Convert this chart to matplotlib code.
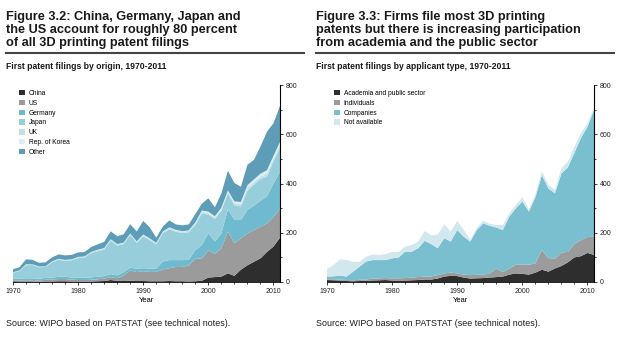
#!/usr/bin/python3

import matplotlib
matplotlib.use('Agg')
import matplotlib.pyplot as plt
from matplotlib.patches import Patch
from matplotlib.ticker import MultipleLocator

plt.rcParams['font.family'] = ['Liberation Sans', 'DejaVu Sans']

years = list(range(1970, 2012))

# Figure 3.2 - first filings by origin
china = [3, 2, 2, 2, 1, 2, 2, 3, 3, 2, 2, 2, 2, 3, 4, 8, 5, 4, 5, 4, 4, 3,
         3, 3, 4, 3, 3, 2, 3, 5, 18, 20, 22, 35, 25, 50, 68, 82, 96, 122, 144, 180]
us = [4, 4, 5, 5, 5, 7, 8, 9, 9, 8, 6, 6, 7, 8, 10, 12, 10, 22, 42, 36, 40, 38,
      38, 48, 52, 58, 58, 66, 92, 90, 110, 94, 115, 170, 132, 128, 130, 128, 129, 116, 120, 118]
germany = [6, 7, 8, 8, 7, 8, 8, 9, 9, 8, 9, 9, 10, 10, 10, 12, 12, 14, 12, 14, 12, 13,
           14, 32, 33, 28, 28, 22, 35, 55, 70, 50, 60, 90, 95, 74, 95, 100, 105, 110, 136, 150]
japan = [25, 31, 53, 54, 47, 44, 62, 69, 65, 70, 80, 82, 98, 104, 108, 136, 121, 114, 132, 105, 129, 116,
         98, 115, 125, 115, 110, 112, 102, 128, 76, 92, 92, 65, 60, 55, 78, 85, 88, 80, 90, 95]
uk = [2, 3, 3, 3, 3, 3, 3, 3, 3, 3, 4, 4, 4, 4, 4, 4, 4, 4, 4, 4, 5, 5,
      4, 5, 6, 6, 5, 6, 6, 7, 6, 6, 7, 6, 8, 8, 12, 10, 10, 12, 10, 12]
korea = [0, 0, 1, 0, 0, 0, 1, 1, 1, 1, 1, 1, 1, 2, 2, 2, 2, 2, 2, 2, 3, 2,
         2, 2, 2, 2, 2, 2, 4, 5, 6, 5, 6, 6, 7, 10, 10, 12, 12, 14, 12, 14]
other = [12, 13, 20, 18, 15, 16, 16, 18, 18, 18, 18, 18, 20, 22, 25, 32, 32, 34, 38, 40, 55, 45,
         21, 20, 28, 22, 24, 24, 34, 28, 54, 36, 58, 80, 75, 62, 83, 79, 110, 156, 133, 146]
origin_labels = ['China', 'US', 'Germany', 'Japan', 'UK', 'Rep. of Korea', 'Other']

# Figure 3.3 - first filings by applicant type
academia = [8, 7, 6, 4, 3, 4, 5, 6, 7, 8, 6, 6, 6, 7, 8, 10, 10, 14, 22, 25, 24, 18,
            14, 15, 16, 18, 20, 22, 30, 35, 33, 30, 38, 50, 42, 55, 65, 80, 100, 105, 118, 110]
individuals = [3, 4, 4, 4, 4, 5, 5, 8, 8, 8, 9, 9, 10, 11, 12, 12, 12, 14, 13, 13, 11, 12,
               14, 14, 14, 16, 35, 18, 25, 35, 37, 40, 38, 80, 55, 40, 55, 42, 55, 65, 65, 74]
companies = [11, 12, 16, 14, 35, 53, 73, 75, 74, 73, 81, 85, 107, 105, 117, 145, 132, 109, 143, 126, 176, 154,
             136, 182, 208, 194, 166, 171, 211, 229, 257, 216, 268, 304, 283, 265, 320, 344, 370, 415, 447, 515]
not_available = [30, 46, 66, 68, 40, 20, 20, 23, 21, 24, 26, 22, 21, 27, 27, 40, 36, 55, 56, 41, 37, 28,
                 8, 9, 11, 8, 11, 21, 13, 14, 17, 9, 12, 16, 15, 14, 23, 23, 25, 20, 15, 7]
type_labels = ['Academia and public sector', 'Individuals', 'Companies', 'Not available']

origin_colors = ['#2e2e2e', '#9b9b9b', '#6fbace', '#98cedc', '#bde0e9', '#dcedf3', '#5e9db7']
type_colors = ['#2e2e2e', '#9b9b9b', '#79bfd0', '#d2e8ef']

title_left = 'Figure 3.2: China, Germany, Japan and\nthe US account for roughly 80 percent\nof all 3D printing patent filings'
title_right = 'Figure 3.3: Firms file most 3D printing\npatents but there is increasing participation\nfrom academia and the public sector'
sub_left = 'First patent filings by origin, 1970-2011'
sub_right = 'First patent filings by applicant type, 1970-2011'
source = 'Source: WIPO based on PATSTAT (see technical notes).'


def panel (fig, rect, series, labels, colors, x0, title, subtitle, legend_pos):
   ax = fig.add_axes(rect)
   ax.stackplot(years, *series, colors = colors, linewidth = 0)
   ax.set_xlim(1970, 2011)
   ax.set_ylim(0, 800)

   for side in ['left', 'top']:
      ax.spines[side].set_visible(False)
   ax.spines['right'].set_linewidth(0.8)
   ax.spines['bottom'].set_linewidth(0.6)
   ax.yaxis.tick_right()
   ax.yaxis.set_major_locator(MultipleLocator(200))
   ax.yaxis.set_minor_locator(MultipleLocator(100))
   ax.xaxis.set_major_locator(MultipleLocator(10))
   ax.xaxis.set_minor_locator(MultipleLocator(2))
   ax.tick_params(labelsize = 5, length = 2.5, width = 0.6, pad = 1.5, colors = '#222222')
   ax.tick_params(which = 'minor', length = 1.5, width = 0.5)
   ax.set_xlabel('Year', fontsize = 5.5, labelpad = 1.5)

   handles = [Patch(facecolor = c, edgecolor = 'none') for c in colors]
   fig.legend(handles, labels, loc = 'upper left', bbox_to_anchor = legend_pos,
              frameon = False, fontsize = 4.8, handlelength = 0.85, handleheight = 0.85,
              handletextpad = 0.6, labelspacing = 0.42, borderpad = 0, borderaxespad = 0)

   fig.text(x0, 1 - 11/337, title, fontsize = 9.2, fontweight = 'bold', va = 'top',
            linespacing = 1.12, color = '#1a1a1a')
   fig.add_artist(plt.Line2D([x0, x0 + 0.48], [1 - 53/337, 1 - 53/337], color = '#444444', linewidth = 1.5))
   fig.text(x0, 1 - 69/337, subtitle, fontsize = 6.2, fontweight = 'bold', color = '#1a1a1a')
   fig.text(x0, 1 - 326/337, source, fontsize = 6.4, color = '#1a1a1a')
   return ax


def main ():
   fig = plt.figure(figsize = (6.2, 3.37), dpi = 100)
   panel(fig, [13/620, 1 - 282/337, 267/620, 197/337], [china, us, germany, japan, uk, korea, other],
         origin_labels, origin_colors, 6/620, title_left, sub_left, (19/620, 1 - 90/337))
   panel(fig, [327/620, 1 - 282/337, 267/620, 197/337], [academia, individuals, companies, not_available],
         type_labels, type_colors, 316/620, title_right, sub_right, (334/620, 1 - 90/337))
   fig.savefig('out.png', dpi = 100)


main()
